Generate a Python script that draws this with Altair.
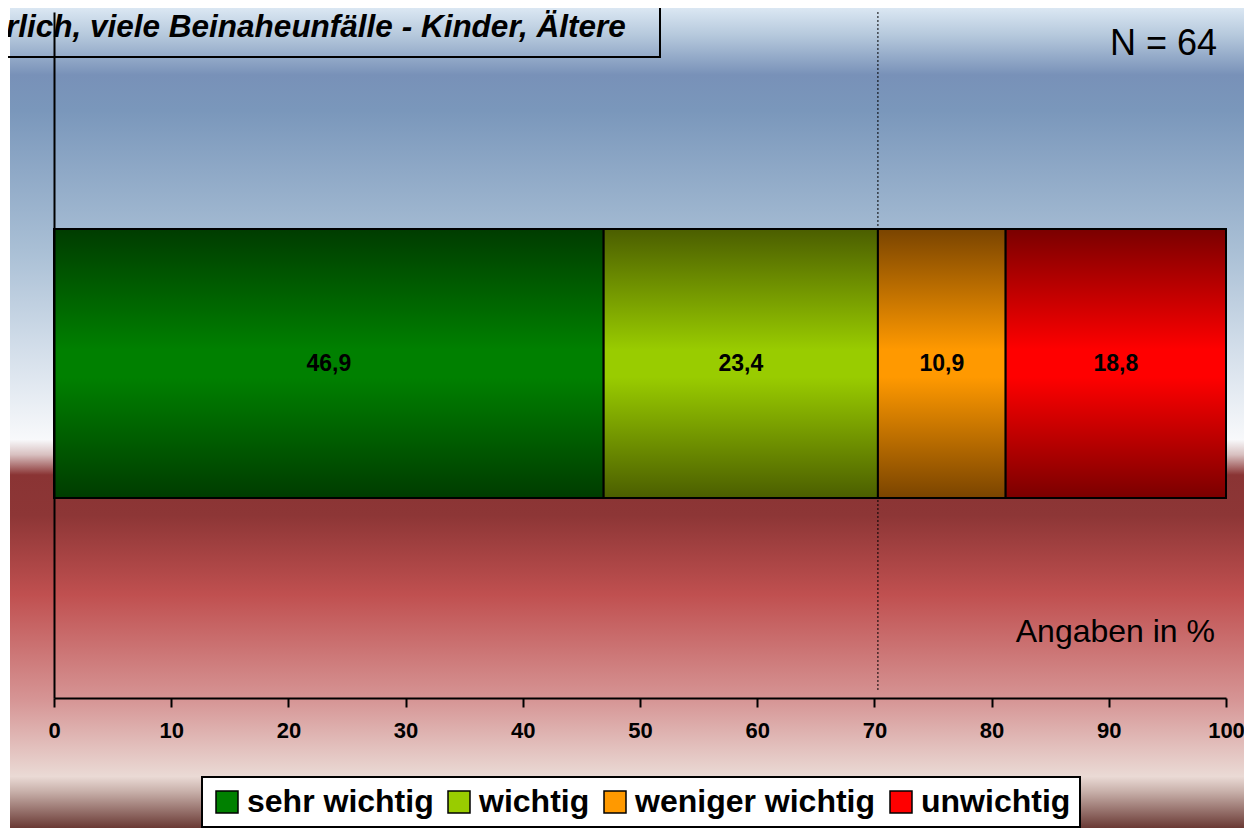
import altair as alt
import pandas as pd

# ---- data ----
categories = ["sehr wichtig", "wichtig", "weniger wichtig", "unwichtig"]
values = [46.9, 23.4, 10.9, 18.8]
question = ["Beinaheunfälle"]
x_ticks = [0, 10, 20, 30, 40, 50, 60, 70, 80, 90, 100]
title_text = ["rlich, viele Beinaheunfälle - Kinder, Ältere"]
n_text = ["N = 64"]
unit_text = ["Angaben in %"]

# ---- styles ----
flat_colors = ["#008000", "#99cc00", "#ff9900", "#ff0000"]
dark_colors = ["#003c00", "#4b5e00", "#7a4400", "#7a0000"]
FONT = "Liberation Sans"
W, H = 1172, 686


def vgrad(stops):
    return alt.LinearGradient(
        gradient="linear",
        stops=[alt.GradientStop(offset=o, color=c) for o, c in stops],
        x1=0, y1=0, x2=0, y2=1,
    )


bg_stops = [
    (0.0, "#dfeaf4"), (0.005, "#dde9f4"), (0.04, "#b5c8dc"), (0.087, "#7891b8"),
    (0.129, "#7a97bb"), (0.295, "#a9bfd5"), (0.414, "#d3deea"), (0.521, "#f8f9fb"),
    (0.539, "#d8c0c0"), (0.563, "#8a3434"), (0.611, "#8d3636"), (0.706, "#c05050"),
    (0.831, "#d69595"), (0.922, "#eadad5"), (0.94, "#c8b0aa"), (0.983, "#6a3a35"),
    (1.0, "#633431"),
]

df = pd.DataFrame({
    "q": question * len(categories),
    "cat": categories,
    "value": values,
    "order": list(range(len(categories))),
})
one = pd.DataFrame({"a": [0]})

xscale = alt.Scale(domain=[0, 100], nice=False, zero=True)
yscale = alt.Scale(paddingInner=0, paddingOuter=0.775, align=0.5204)
xaxis = alt.Axis(values=x_ticks, format="d", labelFontSize=22, labelFontWeight="bold",
                 labelColor="black", labelFont=FONT, tickColor="black", tickWidth=2,
                 tickSize=9, domainColor="black", domainWidth=2, labelPadding=13,
                 grid=False, labelFlush=False, labelOverlap=False, title=None, zindex=1)
yaxis = alt.Axis(labels=False, ticks=False, domain=True, domainColor="black",
                 domainWidth=2, title=None, grid=False, zindex=1)

X0 = alt.X("x0:Q", scale=xscale, axis=xaxis)
Y = alt.Y("q:N", scale=yscale, axis=yaxis)

bg = alt.Chart(one).mark_rect(fill=vgrad(bg_stops)).encode(
    x=alt.value(-44), x2=alt.value(1200), y=alt.value(-10), y2=alt.value(830)
)

title_box = alt.Chart(one).mark_rect(fill="transparent", stroke="black", strokeWidth=2).encode(
    x=alt.value(-64), x2=alt.value(606), y=alt.value(-22), y2=alt.value(45)
)
title = alt.Chart(pd.DataFrame({"t": title_text})).mark_text(
    align="left", baseline="alphabetic", fontSize=31.5, fontWeight="bold",
    fontStyle="italic", font=FONT, color="black"
).encode(x=alt.value(-48), y=alt.value(25), text="t:N")

base = alt.Chart(df).transform_stack(
    stack="value", groupby=["q"], as_=["x0", "x1"],
    sort=[alt.SortField("order", order="ascending")]
)

rule = base.transform_filter(alt.datum.cat == "wichtig").mark_rule(
    color="black", strokeDash=[2, 2], strokeWidth=1
).encode(x=alt.X("x1:Q", scale=xscale, axis=xaxis), y=alt.value(0), y2=alt.value(680))

legend = alt.Legend(
    orient="none", legendX=148, legendY=765, direction="horizontal", title=None,
    symbolType="square", symbolSize=484, symbolStrokeColor="black",
    symbolStrokeWidth=1.5, symbolOpacity=1, labelFontSize=32, labelFontWeight="bold",
    labelFont=FONT, labelColor="black", fillColor="white", strokeColor="black",
    padding=9, columnPadding=9, labelOffset=4, labelLimit=0, zindex=1,
)

legend_bars = base.mark_bar().encode(
    x=X0, x2="x1:Q", y=Y,
    color=alt.Color("cat:N", scale=alt.Scale(domain=categories, range=flat_colors), legend=legend),
)

overlays = []
for cat, fc, dc in zip(categories, flat_colors, dark_colors):
    overlays.append(
        base.transform_filter(alt.datum.cat == cat).mark_bar(
            fill=vgrad([(0, dc), (0.45, fc), (0.55, fc), (1, dc)]),
            stroke="black", strokeWidth=2,
        ).encode(x=X0, x2="x1:Q", y=Y)
    )

labels = base.transform_calculate(
    mid="(datum.x0 + datum.x1) / 2",
    lab="replace(format(datum.value, '.1f'), '.', ',')",
).mark_text(fontSize=23, fontWeight="bold", font=FONT, color="black", baseline="middle").encode(
    x=alt.X("mid:Q", scale=xscale, axis=xaxis), y=Y, text="lab:N"
)

n_label = alt.Chart(pd.DataFrame({"t": n_text})).mark_text(
    align="right", baseline="alphabetic", fontSize=36, font=FONT, color="black"
).encode(x=alt.value(1163), y=alt.value(43), text="t:N")

unit_label = alt.Chart(pd.DataFrame({"t": unit_text})).mark_text(
    align="right", baseline="alphabetic", fontSize=32, font=FONT, color="black"
).encode(x=alt.value(1161), y=alt.value(630), text="t:N")

chart = alt.layer(
    bg, title_box, title, rule, legend_bars, *overlays, labels, n_label, unit_label
).properties(
    width=W, height=H,
    padding={"left": 46, "top": 4, "right": 18, "bottom": 130},
    autosize=alt.AutoSizeParams(type="none"),
    background="white",
).configure_view(stroke="transparent").configure_legend(strokeWidth=2)

chart.save("out.html", embed_options={"renderer": "svg", "actions": False})
